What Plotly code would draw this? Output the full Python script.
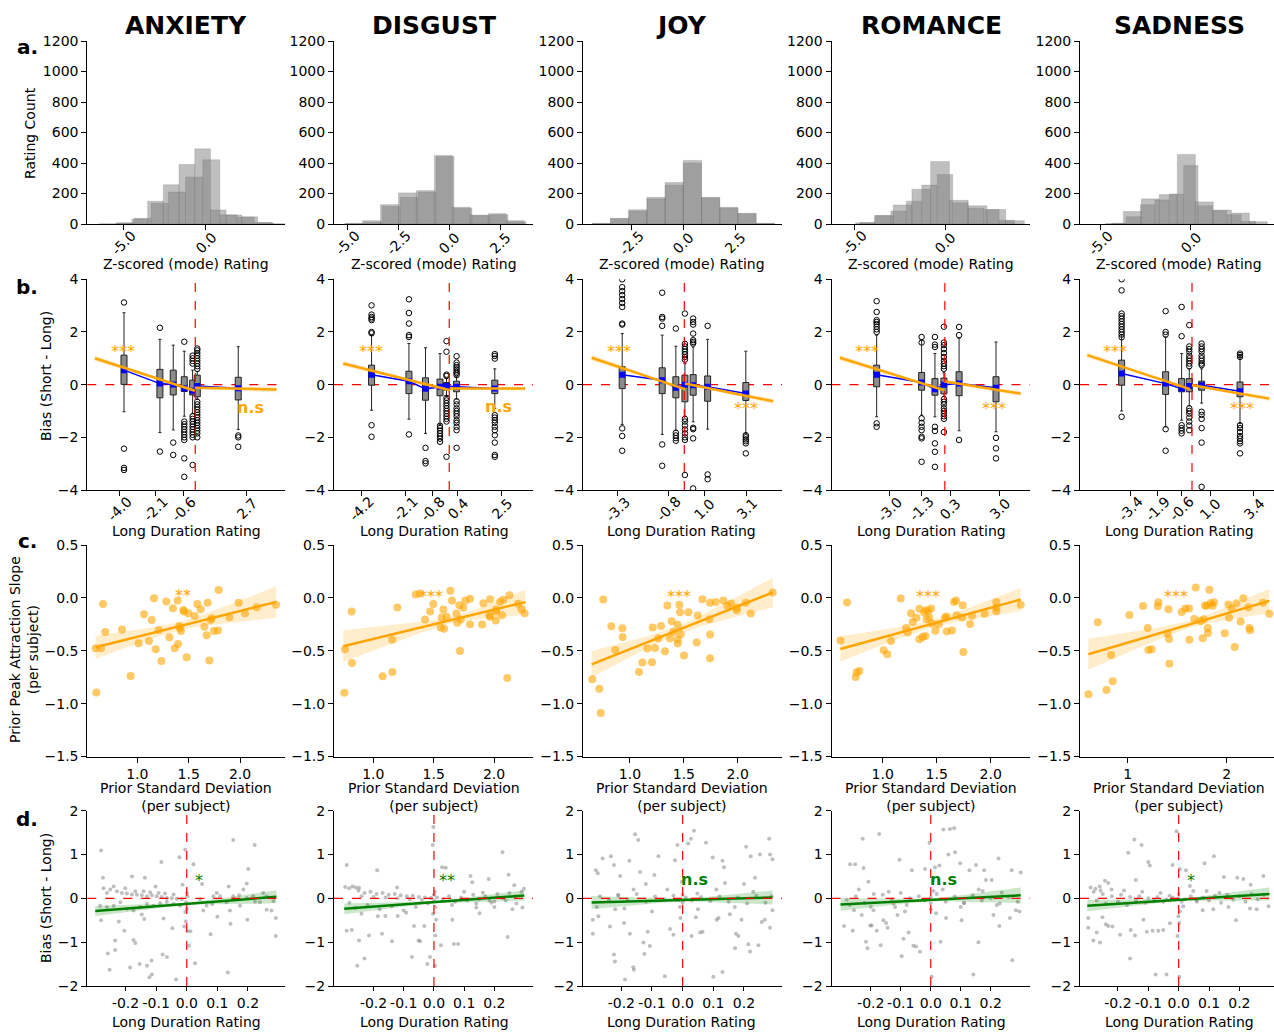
import numpy as np
import plotly.graph_objects as go

# The photographed page maps page row y to picture row 8 + 0.9846*y, so vertical positions
# read from the reference are converted with that mapping (FH = 1020 effective rows).
W, H = 1274, 1036
Y_OFF = 8
FH = 1020
EMOTIONS = ["ANXIETY", "DISGUST", "JOY", "ROMANCE", "SADNESS"]

# ---------------- layout geometry (reference pixels) ----------------
COL_L = [87.3, 334.0, 583.0, 831.5, 1080.0]
COL_R = [285.0, 533.0, 782.0, 1030.0, 1274.0]
COL_C = [186, 434, 682, 931, 1179]
ROW_T = [41.0, 279.3, 545.0, 810.7]
ROW_B = [224.0, 490.0, 756.5, 986.0]

XRANGE_A = [[-7.18, 4.78], [-5.65, 4.10], [-4.85, 4.77], [-6.24, 4.67], [-6.15, 4.63]]
XRANGE_B = [[-5.68, 4.72], [-5.49, 3.99], [-5.04, 4.86], [-6.20, 4.66], [-6.16, 4.51]]
XRANGE_C = [[0.513, 2.438], [0.674, 2.323], [0.564, 2.411], [0.526, 2.364], [0.518, 2.478]]
XRANGE_D = [[-0.325, 0.321], [-0.331, 0.328], [-0.325, 0.324], [-0.331, 0.331], [-0.325, 0.314]]

# ---------------- row a: histograms ----------------
XTICKS_A = [[-5.0, 0.0], [-5.0, -2.5, 0.0, 2.5], [-2.5, 0.0, 2.5], [-5.0, 0.0], [-5.0, 0.0]]
HIST1_START = [-5.43, -5.13, -4.40, -4.91, -4.74]
HIST1_WIDTH = [0.95, 0.88, 0.88, 1.03, 1.00]
HIST1_ANXIETY = [6, 33, 149, 257, 390, 493, 92, 59, 48, 9]
HIST1_DISGUST = [4, 22, 127, 204, 219, 450, 110, 59, 68, 22]
HIST1_JOY = [4, 37, 94, 175, 272, 417, 175, 110, 70, 4]
HIST1_ROMANCE = [8, 55, 125, 228, 410, 155, 120, 95, 22]
HIST1_SADNESS = [3, 82, 165, 193, 456, 145, 92, 72, 15]
HIST2_START = [-6.44, -5.05, -4.40, -4.68, -4.39]
HIST2_WIDTH = [1.04, 0.88, 0.88, 0.85, 0.80]
HIST2_ANXIETY = [2, 8, 37, 136, 210, 309, 421, 60, 45, 10, 2]
HIST2_DISGUST = [2, 12, 116, 175, 210, 443, 103, 55, 61, 15]
HIST2_JOY = [3, 35, 85, 165, 255, 400, 172, 105, 68, 3]
HIST2_ROMANCE = [10, 55, 85, 150, 255, 325, 140, 105, 95, 25]
HIST2_SADNESS = [5, 48, 127, 158, 197, 384, 120, 88, 61, 18]
HIST1 = [HIST1_ANXIETY, HIST1_DISGUST, HIST1_JOY, HIST1_ROMANCE, HIST1_SADNESS]
HIST2 = [HIST2_ANXIETY, HIST2_DISGUST, HIST2_JOY, HIST2_ROMANCE, HIST2_SADNESS]

# ---------------- row b: boxplots per long-duration rating ----------------
XTICKS_B = [[-4.0, -2.1, -0.6, 2.7], [-4.2, -2.1, -0.8, 0.4, 2.5], [-3.3, -0.8, 1.0, 3.1],
            [-3.0, -1.3, 0.3, 3.0], [-3.4, -1.9, -0.6, 1.0, 3.4]]

B_X_ANXIETY = [-3.75, -1.86, -1.16, -0.58, -0.14, 0.105, 2.26]
B_Q1_ANXIETY = [0.01, -0.50, -0.39, -0.26, -0.39, -0.46, -0.58]
B_Q3_ANXIETY = [1.12, 0.58, 0.55, 0.30, 0.17, 0.36, 0.28]
B_LO_ANXIETY = [-1.03, -1.82, -1.72, -1.20, -1.10, -0.55, -1.70]
B_HI_ANXIETY = [2.73, 1.72, 1.50, 1.27, 0.55, 0.50, 1.44]
B_MEAN_ANXIETY = [0.55, 0.04, 0.01, -0.14, -0.23, -0.05, -0.14]
B_OUT_ANXIETY = [[3.12, -2.43, -3.16, -3.24], [2.16, -2.54], [-2.2, -2.67],
                 [1.63, -1.4, -1.5, -1.6, -1.7, -1.8, -1.9, -2.0, -2.1, -2.8, -3.5],
                 [1.1, 1.0, 0.9, 0.8, -1.2, -1.3, -1.4, -1.5, -1.6, -1.7, -1.8, -1.9, -2.0, -3.05],
                 [1.37, 1.3, 1.2, 1.1, 1.0, 0.9, 0.8, 0.7, 0.6, -0.65, -0.75, -0.85, -0.95, -1.05,
                  -1.15, -1.25, -1.35, -1.45, -1.55, -1.65, -1.75, -1.85, -2.0],
                 [-1.93, -2.0, -2.36]]

B_X_DISGUST = [-3.70, -1.92, -1.13, -0.44, -0.13, 0.35, 2.17]
B_Q1_DISGUST = [-0.02, -0.34, -0.59, -0.42, -0.21, -0.27, -0.34]
B_Q3_DISGUST = [0.74, 0.51, 0.26, 0.21, 0.08, 0.13, 0.17]
B_LO_DISGUST = [-0.97, -1.31, -1.85, -1.51, -0.45, -0.55, -0.90]
B_HI_DISGUST = [1.88, 1.56, 1.40, 1.18, 0.25, 0.30, 0.60]
B_MEAN_DISGUST = [0.38, 0.13, -0.16, -0.08, -0.05, -0.08, -0.15]
B_OUT_DISGUST = [[3.01, 2.66, 2.57, 2.51, 2.45, 2.0, 1.95, -1.54, -1.98],
                 [3.24, 2.72, 2.32, 1.88, 1.81, -1.89], [-2.40, -2.90, -2.99],
                 [-1.56, -1.65, -1.75, -1.85, -1.95, -2.05, -2.17],
                 [1.65, 1.25, 0.38, 0.33, -0.5, -0.6, -0.7, -0.8, -0.9, -1.0, -1.1, -1.2, -1.3, -1.4, -2.74],
                 [1.08, 0.84, 0.74, 0.66, 0.58, 0.5, 0.44, 0.36, -0.63, -0.75, -0.9, -1.0, -1.1, -1.2,
                  -1.35, -1.45, -1.6, -1.73, -2.4],
                 [1.16, 1.09, 0.99, -1.16, -1.25, -1.35, -1.45, -1.6, -1.73, -1.92, -2.2, -2.67, -2.74]]

B_X_JOY = [-3.09, -1.10, -0.42, 0.03, 0.44, 1.16, 3.06]
B_Q1_JOY = [-0.15, -0.34, -0.50, -0.65, -0.40, -0.63, -0.60]
B_Q3_JOY = [0.68, 0.64, 0.30, 0.36, 0.38, 0.33, 0.08]
B_LO_JOY = [-1.51, -1.89, -1.73, -1.20, -1.41, -1.69, -1.85]
B_HI_JOY = [1.94, 1.88, 1.46, 0.80, 1.43, 1.72, 1.27]
B_MEAN_JOY = [0.38, 0.17, -0.12, 0.0, -0.02, -0.08, -0.34]
B_OUT_JOY = [[4.0, 3.7, 3.55, 3.4, 3.25, 3.1, 2.95, 2.32, 2.28, -1.66, -1.95, -2.51],
             [3.49, 2.57, 2.51, 2.23, -2.27, -3.08], [2.13, -1.83, -1.93, -2.03, -2.13],
             [2.7, 1.55, 1.45, 1.35, 1.25, 1.15, 1.05, 0.95, -1.3, -1.4, -1.55, -1.7, -1.85, -2.0, -2.1, -3.43],
             [2.51, 2.38, 2.28, 1.94, 1.69, 1.62, 1.56, -1.64, -1.69, -2.04, -3.94],
             [2.23, -3.41, -3.59], [-1.92, -2.0, -2.08, -2.15, -2.23, -2.61]]

B_X_ROMANCE = [-3.73, -1.27, -0.54, -0.05, 0.78, 2.80]
B_Q1_ROMANCE = [-0.08, -0.21, -0.40, -0.35, -0.42, -0.65]
B_Q3_ROMANCE = [0.74, 0.46, 0.23, 0.25, 0.49, 0.30]
B_LO_ROMANCE = [-1.22, -1.16, -1.22, -0.45, -1.75, -1.79]
B_HI_ROMANCE = [1.88, 1.69, 1.18, 0.45, 1.77, 1.62]
B_MEAN_ROMANCE = [0.38, 0.08, -0.17, 0.0, 0.04, -0.12]
B_OUT_ROMANCE = [[3.17, 2.76, 2.45, 2.38, 2.3, 2.2, 2.1, 2.0, -1.47, -1.6],
                 [1.81, 1.6, -1.28, -1.45, -1.6, -1.73, -1.98, -2.04, -2.93],
                 [1.81, 1.52, 1.43, -1.6, -1.76, -2.23, -2.55, -3.12],
                 [2.2, 1.6, 1.5, 1.35, 1.2, 1.05, 0.9, 0.8, 0.7, 0.6, -0.55, -0.65, -0.75, -0.9,
                  -1.0, -1.1, -1.2, -1.3, -1.8],
                 [2.19, 1.88, -2.1], [-2.02, -2.42, -2.80]]

B_X_SADNESS = [-3.87, -1.45, -0.57, -0.15, 0.53, 2.64]
B_Q1_SADNESS = [-0.02, -0.37, -0.27, -0.27, -0.21, -0.46]
B_Q3_SADNESS = [0.93, 0.49, 0.23, 0.23, 0.13, 0.10]
B_LO_SADNESS = [-1.0, -1.60, -1.35, -0.80, -0.70, -1.48]
B_HI_SADNESS = [1.90, 1.81, 1.18, 0.60, 0.60, 1.12]
B_MEAN_SADNESS = [0.42, 0.04, -0.15, -0.05, -0.02, -0.25]
B_OUT_SADNESS = [[4.0, 3.58, 2.7, 2.6, 2.5, 2.4, 2.3, 2.2, 2.1, 2.0, 1.9, 1.8, -1.22],
                 [2.79, 2.0, 1.9, -1.69, -2.51], [2.95, 1.84, -1.54, -1.65, -1.75, -1.85],
                 [2.26, 1.45, 1.35, 1.25, 1.1, 1.0, 0.9, 0.8, 0.7, -0.9, -1.0, -1.1, -1.25, -1.4, -1.55, -1.73],
                 [1.56, 1.45, 1.35, 1.25, 1.1, 1.0, 0.9, 0.8, 0.74, -1.03, -1.15, -1.3, -1.65, -2.2, -3.88],
                 [1.18, 1.12, 1.05, -1.54, -1.65, -1.8, -1.95, -2.05, -2.15, -2.23, -2.61]]

B_X = [B_X_ANXIETY, B_X_DISGUST, B_X_JOY, B_X_ROMANCE, B_X_SADNESS]
B_Q1 = [B_Q1_ANXIETY, B_Q1_DISGUST, B_Q1_JOY, B_Q1_ROMANCE, B_Q1_SADNESS]
B_Q3 = [B_Q3_ANXIETY, B_Q3_DISGUST, B_Q3_JOY, B_Q3_ROMANCE, B_Q3_SADNESS]
B_LO = [B_LO_ANXIETY, B_LO_DISGUST, B_LO_JOY, B_LO_ROMANCE, B_LO_SADNESS]
B_HI = [B_HI_ANXIETY, B_HI_DISGUST, B_HI_JOY, B_HI_ROMANCE, B_HI_SADNESS]
B_MEAN = [B_MEAN_ANXIETY, B_MEAN_DISGUST, B_MEAN_JOY, B_MEAN_ROMANCE, B_MEAN_SADNESS]
B_OUT = [B_OUT_ANXIETY, B_OUT_DISGUST, B_OUT_JOY, B_OUT_ROMANCE, B_OUT_SADNESS]

# piecewise regression fits (x0, y0, x1, y1) and CI half-widths (start, min, end)
B_FIT_LEFT = [[-5.28, 1.00, -0.02, -0.23], [-5.05, 0.80, 0.03, -0.21], [-4.61, 1.02, 0.03, -0.17],
              [-5.74, 1.02, -0.05, -0.21], [-5.76, 1.12, -0.11, -0.17]]
B_FIT_RIGHT = [[-0.02, -0.12, 4.28, -0.18], [0.03, -0.15, 3.62, -0.15], [0.03, 0.04, 4.42, -0.63],
               [-0.05, 0.13, 4.15, -0.34], [0.0, -0.02, 4.25, -0.53]]
B_HW_LEFT = [[0.11, 0.05, 0.08], [0.10, 0.05, 0.07], [0.12, 0.05, 0.07], [0.11, 0.05, 0.07], [0.11, 0.05, 0.07]]
B_HW_RIGHT = [[0.06, 0.05, 0.12], [0.05, 0.04, 0.08], [0.06, 0.05, 0.10], [0.06, 0.05, 0.09], [0.06, 0.05, 0.09]]
B_SIG_LEFT = ["***", "***", "***", "***", "***"]
B_SIG_LEFT_POS = [(-3.82, 1.41), (-3.73, 1.40), (-3.24, 1.40), (-4.24, 1.40), (-4.23, 1.40)]
B_SIG_RIGHT = ["n.s", "n.s", "***", "***", "***"]
B_SIG_RIGHT_POS = [(2.88, -0.86), (2.33, -0.84), (3.05, -0.75), (2.71, -0.75), (2.73, -0.75)]

# ---------------- row c: per-subject slope vs prior SD ----------------
XTICKS_C = [[1.0, 1.5, 2.0]] * 4 + [[1.0, 2.0]]
XTICKTEXT_C = [["1.0", "1.5", "2.0"]] * 4 + [["1", "2"]]
C_ANXIETY = [(0.594, -0.476), (0.646, -0.476), (0.666, -0.057), (0.688, -0.322), (0.851, -0.300),
             (0.935, -0.738), (1.013, -0.429), (1.065, -0.155), (1.114, -0.407), (1.140, -0.209),
             (1.162, -0.004), (1.179, -0.486), (1.208, -0.303), (1.234, -0.596), (1.282, -0.035),
             (1.312, -0.372), (1.347, -0.098), (1.364, -0.476), (1.393, -0.026), (1.396, -0.435),
             (1.409, -0.265), (1.416, -0.287), (1.425, -0.313), (1.448, -0.114), (1.455, -0.130),
             (1.481, -0.561), (1.497, -0.146), (1.558, -0.171), (1.584, -0.057), (1.617, -0.108),
             (1.653, -0.272), (1.675, -0.354), (1.685, -0.045), (1.701, -0.593), (1.714, -0.209),
             (1.724, -0.193), (1.747, -0.313), (1.786, -0.309), (1.792, 0.075), (1.896, -0.183),
             (1.987, -0.045), (2.049, -0.146), (2.162, -0.089), (2.351, -0.064), (0.601, -0.895)]
C_DISGUST = [(0.760, -0.897), (0.765, -0.486), (0.820, -0.129), (0.823, -0.615), (1.077, -0.742),
             (1.157, -0.701), (1.157, -0.397), (1.199, -0.091), (1.351, 0.032), (1.387, 0.042),
             (1.428, -0.205), (1.470, -0.129), (1.497, -0.059), (1.558, -0.280), (1.566, -0.186),
             (1.580, -0.110), (1.586, -0.293), (1.608, -0.179), (1.638, 0.067), (1.652, -0.024),
             (1.688, -0.148), (1.696, -0.236), (1.713, -0.069), (1.718, -0.502), (1.724, -0.205),
             (1.746, -0.094), (1.762, -0.024), (1.801, -0.009), (1.801, -0.249), (1.901, -0.252),
             (1.912, -0.050), (1.961, -0.167), (1.967, -0.012), (1.967, -0.179), (2.014, -0.214),
             (2.017, -0.110), (2.017, -0.129), (2.050, -0.037), (2.066, -0.164), (2.077, -0.018),
             (2.110, -0.758), (2.127, 0.026), (2.199, -0.056), (2.227, -0.107), (2.254, -0.145)]
C_JOY = [(0.650, -0.770), (0.715, -0.859), (0.728, -1.089), (0.752, -0.015), (0.827, -0.268),
         (0.864, -0.492), (0.929, -0.287), (0.932, -0.369), (1.084, -0.701), (1.115, -0.612),
         (1.161, -0.479), (1.204, -0.609), (1.211, -0.280), (1.232, -0.473), (1.263, -0.381),
         (1.288, -0.265), (1.325, -0.505), (1.347, -0.072), (1.372, -0.385), (1.387, -0.220),
         (1.402, -0.321), (1.443, -0.432), (1.443, -0.255), (1.443, -0.394), (1.458, -0.066),
         (1.464, -0.135), (1.471, -0.344), (1.502, -0.546), (1.542, -0.135), (1.619, -0.423),
         (1.628, -0.167), (1.672, -0.012), (1.737, -0.202), (1.743, -0.047), (1.743, -0.347),
         (1.743, -0.571), (1.796, -0.040), (1.867, -0.024), (1.904, -0.075), (1.938, -0.053),
         (1.991, -0.116), (1.991, -0.091), (2.074, -0.047), (2.121, -0.148), (2.325, 0.051)]
C_ROMANCE = [(0.608, -0.404), (0.670, -0.043), (0.750, -0.748), (0.759, -0.704), (0.784, -0.691),
             (1.009, -0.495), (1.043, -0.533), (1.077, -0.407), (1.167, -0.005), (1.216, -0.284),
             (1.231, -0.328), (1.262, -0.145), (1.278, -0.227), (1.312, -0.189), (1.340, -0.104),
             (1.340, -0.391), (1.370, -0.369), (1.383, -0.139), (1.395, -0.360), (1.401, -0.117),
             (1.407, -0.202), (1.423, -0.123), (1.432, -0.186), (1.448, -0.101), (1.454, -0.243),
             (1.488, -0.312), (1.519, -0.249), (1.577, -0.189), (1.590, -0.177), (1.593, -0.319),
             (1.642, -0.309), (1.660, -0.040), (1.679, -0.024), (1.685, -0.164), (1.735, -0.186),
             (1.741, -0.069), (1.747, -0.511), (1.809, -0.246), (1.827, -0.170), (1.944, -0.151),
             (2.052, -0.040), (2.052, -0.094), (2.052, -0.126), (2.278, -0.066)]
C_SADNESS = [(0.603, -0.912), (0.697, -0.230), (0.785, -0.871), (0.832, -0.540), (0.848, -0.789),
             (1.017, -0.161), (1.155, -0.076), (1.202, -0.284), (1.209, -0.492), (1.242, -0.486),
             (1.303, -0.079), (1.310, -0.041), (1.401, -0.338), (1.411, -0.107), (1.418, -0.389),
             (1.421, -0.622), (1.545, -0.133), (1.582, -0.101), (1.620, -0.101), (1.623, -0.395),
             (1.673, -0.199), (1.687, 0.098), (1.737, -0.218), (1.758, -0.382), (1.768, -0.202),
             (1.781, -0.072), (1.798, -0.075), (1.808, -0.284), (1.811, -0.331), (1.825, 0.076),
             (1.838, -0.050), (1.859, -0.075), (1.872, -0.041), (1.980, -0.334), (2.017, -0.063),
             (2.024, -0.189), (2.051, -0.101), (2.081, -0.464), (2.098, -0.050), (2.141, -0.224),
             (2.168, -0.003), (2.219, -0.088), (2.229, -0.284), (2.236, -0.306), (2.367, -0.047),
             (2.431, -0.151)]
C_POINTS = [C_ANXIETY, C_DISGUST, C_JOY, C_ROMANCE, C_SADNESS]
C_FIT = [[0.594, -0.467, 2.351, -0.039], [0.751, -0.457, 2.260, -0.040], [0.644, -0.628, 2.325, 0.051],
         [0.608, -0.483, 2.278, -0.015], [0.603, -0.533, 2.431, -0.028]]
C_HW = [[0.11, 0.04, 0.15], [0.15, 0.03, 0.12], [0.125, 0.04, 0.14], [0.12, 0.035, 0.11], [0.147, 0.035, 0.115]]
C_SIG = ["**", "***", "***", "***", "***"]
C_SIG_POS = [(1.44, 0.056), (1.475, 0.05), (1.458, 0.05), (1.417, 0.05), (1.488, 0.05)]

# ---------------- row d: per-trial bias vs long duration rating ----------------
XTICKS_D = [-0.2, -0.1, 0.0, 0.1, 0.2]
D_ANXIETY = [(-0.280, 1.09), (-0.274, 0.47), (-0.280, -0.50), (-0.258, -1.26), (-0.252, -1.63), (-0.234, -0.96),
             (-0.234, -1.18), (-0.222, -0.53), (-0.204, -0.74), (-0.185, -1.58), (-0.179, 0.50), (-0.174, -0.95),
             (-0.168, -1.02), (-0.154, -1.50), (-0.147, -0.37), (-0.139, -0.47), (-0.137, 0.47), (-0.130, -1.54),
             (-0.122, -1.80), (-0.114, -1.74), (-0.115, -1.42), (-0.102, 0.27), (-0.083, 0.83), (-0.076, -0.46),
             (-0.079, -1.28), (-0.065, -1.34), (-0.047, -0.68), (-0.035, -1.85), (-0.024, 0.94), (-0.014, 0.31),
             (-0.005, 1.11), (-0.005, -0.31), (0.002, -0.75), (0.007, -1.08), (0.012, -0.75), (0.022, 0.78),
             (0.027, -1.48), (0.050, 0.33), (0.078, -0.82), (0.083, -0.13), (0.100, -0.42), (0.134, -1.69),
             (0.137, 0.27), (0.143, -0.58), (0.152, 1.33), (0.171, 0.07), (0.196, 0.34), (0.198, -0.49),
             (0.201, 0.67), (0.222, 1.22), (0.223, -0.08), (0.261, -0.26), (0.277, -0.28), (0.291, -0.45),
             (0.291, -0.86), (0.250, 0.12),
             (-0.272, 0.23), (-0.250, 0.20), (-0.228, 0.16), (-0.212, 0.12), (-0.196, 0.11), (-0.179, 0.09),
             (-0.163, 0.08), (-0.147, 0.07), (-0.130, 0.05), (-0.114, 0.07), (-0.098, 0.05), (-0.082, 0.03),
             (-0.065, 0.01), (-0.049, 0.00), (-0.033, -0.01), (-0.016, -0.02), (-0.261, 0.12), (-0.239, 0.27),
             (-0.201, 0.23), (-0.168, 0.16), (-0.141, 0.16), (-0.120, 0.14), (-0.092, 0.12), (-0.071, 0.11),
             (-0.043, 0.09), (-0.283, -0.17), (-0.261, -0.20), (-0.239, -0.17), (-0.217, -0.09), (-0.196, -0.24),
             (-0.174, -0.28), (-0.152, -0.20), (-0.130, -0.13), (-0.109, -0.17), (-0.087, -0.11), (-0.065, -0.08),
             (-0.043, -0.13), (-0.022, -0.17), (-0.002, -0.09), (0.000, -0.24), (-0.003, -0.53), (0.002, 0.05),
             (0.000, 0.12), (-0.008, -0.64), (0.043, -0.02), (0.065, -0.17), (0.087, 0.05), (0.109, 0.05),
             (0.130, -0.09), (0.152, 0.05), (0.174, -0.17), (0.196, 0.01), (0.217, 0.05), (0.239, -0.09),
             (0.261, 0.05), (0.283, -0.06), (0.054, -0.28), (0.098, 0.12), (0.141, -0.28), (0.185, 0.20)]
D_DISGUST = [(-0.289, 0.76), (-0.294, 0.26), (-0.281, 0.23), (-0.270, 0.27), (-0.259, 0.25), (-0.248, 0.24),
             (-0.289, -0.74), (-0.272, -0.72), (-0.254, -1.54), (-0.248, -0.96), (-0.230, -1.37), (-0.215, -0.85),
             (-0.188, 0.64), (-0.186, -0.41), (-0.172, -0.81), (-0.161, -0.40), (-0.139, -0.98), (-0.122, 0.25),
             (-0.092, -0.33), (-0.073, -1.34), (-0.066, -0.63), (-0.051, -0.96), (-0.046, -0.98), (-0.032, -0.63),
             (-0.022, -1.50), (-0.013, -1.34), (-0.004, 1.22), (-0.002, 1.63), (0.004, -1.54), (0.004, -0.85),
             (0.007, -0.49), (0.023, -1.07), (0.027, 0.71), (0.039, 0.70), (0.061, -0.49), (0.066, -1.04),
             (0.080, -1.04), (0.121, 0.51), (0.127, 0.37), (0.140, -0.21), (0.151, -0.34), (0.162, 0.13),
             (0.181, 0.44), (0.184, -0.05), (0.200, -0.07), (0.227, 1.05), (0.238, -0.05), (0.244, -0.88),
             (0.247, 0.54), (0.266, 0.30), (0.273, -0.12), (0.293, -0.21), (0.298, 0.22),
             (-0.25, 0.18), (-0.23, 0.12), (-0.21, 0.15), (-0.19, 0.10), (-0.17, 0.12), (-0.15, 0.08),
             (-0.13, 0.10), (-0.11, 0.07), (-0.09, 0.05), (-0.07, 0.06), (-0.05, 0.03), (-0.03, 0.02),
             (-0.01, 0.01), (-0.24, 0.05), (-0.20, 0.03), (-0.16, 0.02), (-0.12, 0.00), (-0.08, -0.02),
             (-0.04, -0.03), (-0.28, -0.10), (-0.26, -0.22), (-0.22, -0.15), (-0.18, -0.25), (-0.14, -0.18),
             (-0.10, -0.28), (-0.06, -0.20), (-0.02, -0.12), (-0.24, -0.35), (-0.12, -0.40), (0.0, -0.05),
             (0.0, 0.08), (0.005, -0.20), (0.01, 0.02), (-0.003, -0.35), (0.003, 0.15), (0.03, -0.02),
             (0.05, 0.05), (0.07, -0.08), (0.09, 0.02), (0.11, -0.05), (0.13, 0.08), (0.15, -0.02),
             (0.17, 0.05), (0.19, -0.10), (0.21, 0.10), (0.23, 0.00), (0.25, 0.12), (0.27, 0.05),
             (0.29, 0.15), (0.06, -0.15), (0.10, 0.15), (0.14, -0.12), (0.20, -0.20), (0.26, -0.25)]
D_JOY = [(-0.283, 0.64), (-0.277, 0.57), (-0.293, -0.81), (-0.293, -0.49), (-0.275, -0.41), (-0.261, 0.91),
         (-0.237, -0.64), (-0.234, 0.96), (-0.224, 0.76), (-0.221, -1.44), (-0.224, -1.28), (-0.210, 0.06),
         (-0.204, 0.51), (-0.191, -0.56), (-0.190, -0.23), (-0.188, -1.85), (-0.174, 0.86), (-0.172, -0.81),
         (-0.161, -1.57), (-0.159, -1.63), (-0.155, 1.46), (-0.145, 1.33), (-0.139, 0.60), (-0.128, -1.01),
         (-0.125, -1.27), (-0.120, 0.33), (-0.114, -0.76), (-0.107, -1.09), (-0.092, 0.53), (-0.079, 0.96),
         (-0.058, -1.78), (-0.041, -0.70), (-0.030, -0.83), (-0.025, 0.87), (-0.017, 1.22), (-0.009, -0.20),
         (-0.003, 0.38), (-0.007, -0.45), (0.018, 1.25), (0.027, 1.36), (0.037, 1.54), (0.029, -0.86),
         (0.043, -0.43), (0.048, 0.11), (0.057, -0.78), (0.065, -0.76), (0.076, 1.27), (0.098, 0.93),
         (0.111, -0.49), (0.117, -0.45), (0.130, 0.86), (0.135, 0.71), (0.138, 0.35), (0.100, -1.79),
         (0.130, -1.68), (0.154, -0.36), (0.171, -1.14), (0.174, -0.81), (0.182, -0.86), (0.192, -0.49),
         (0.200, 0.33), (0.207, 1.18), (0.214, -1.05), (0.222, 0.96), (0.220, -1.21), (0.236, 0.47),
         (0.247, -1.07), (0.252, 1.00), (0.258, -0.54), (0.268, -0.49), (0.282, 1.36), (0.285, -0.67),
         (0.285, 1.00), (0.293, 0.89), (0.293, -0.27),
         (-0.27, 0.05), (-0.24, -0.05), (-0.21, 0.08), (-0.18, -0.03), (-0.15, 0.10), (-0.12, -0.08),
         (-0.09, 0.04), (-0.06, -0.02), (-0.03, 0.06), (-0.01, -0.03), (0.0, 0.08), (0.0, -0.10),
         (0.01, 0.02), (0.03, -0.05), (0.06, 0.03), (0.09, -0.06), (0.12, 0.04), (0.15, -0.08),
         (0.18, 0.02), (0.21, -0.12), (0.24, 0.06), (0.27, -0.10), (0.29, 0.05), (-0.28, -0.20),
         (-0.22, -0.25), (-0.16, 0.20), (-0.10, -0.30), (-0.05, 0.20), (0.05, -0.25), (0.11, 0.20),
         (0.17, -0.20), (0.23, 0.15)]
D_ROMANCE = [(-0.289, -0.63), (-0.269, 0.78), (-0.252, 0.78), (-0.260, -0.74), (-0.256, -0.27), (-0.230, -0.38),
             (-0.224, 0.69), (-0.227, 1.36), (-0.216, -0.99), (-0.211, -1.14), (-0.208, 0.38), (-0.202, -0.62),
             (-0.197, -0.62), (-0.191, -0.27), (-0.180, -0.74), (-0.172, 1.47), (-0.167, -1.07), (-0.158, -0.50),
             (-0.149, -0.56), (-0.144, -0.67), (-0.124, -0.12), (-0.119, -0.20), (-0.111, -0.38), (-0.104, 0.88),
             (-0.097, -1.32), (-0.091, -0.92), (-0.086, -0.30), (-0.074, -0.78), (-0.063, 0.64), (-0.058, -1.08),
             (-0.049, -1.10), (-0.036, -1.22), (-0.019, 0.67), (-0.004, 1.27), (0.003, -1.79), (0.009, 0.17),
             (0.014, 0.71), (0.018, -0.34), (0.029, 0.75), (0.033, -0.99), (0.042, 1.57), (0.051, -0.45),
             (0.059, 1.00), (0.064, 1.58), (0.078, 1.60), (0.081, 1.05), (0.098, 0.80), (0.103, -0.50),
             (0.112, -0.11), (0.129, 0.64), (0.142, -1.74), (0.151, 0.76), (0.159, -1.00), (0.173, 0.17),
             (0.178, 0.64), (0.184, 0.42), (0.203, 0.42), (0.209, -0.38), (0.226, 0.91), (0.229, -0.63),
             (0.237, 0.13), (0.264, -0.45), (0.270, 0.64), (0.272, -1.41), (0.284, -0.27), (0.296, -0.30),
             (0.300, 0.59),
             (-0.28, -0.03), (-0.25, 0.05), (-0.22, -0.10), (-0.19, 0.10), (-0.16, 0.08), (-0.13, -0.02),
             (-0.10, 0.12), (-0.07, 0.00), (-0.04, 0.05), (-0.02, -0.05), (0.0, 0.02), (0.0, -0.12),
             (0.0, -0.25), (0.02, 0.10), (0.05, -0.08), (0.08, 0.04), (0.11, -0.10), (0.14, 0.07),
             (0.17, -0.05), (0.20, 0.00), (0.23, -0.12), (0.26, 0.03), (0.29, -0.08), (-0.27, -0.15),
             (-0.24, 0.20), (-0.20, -0.20), (-0.14, 0.15), (-0.08, -0.15), (0.04, 0.20), (0.10, -0.20),
             (0.16, 0.20), (0.22, -0.15)]
D_SADNESS = [(-0.298, -0.45), (-0.298, -0.67), (-0.281, -0.96), (-0.260, 0.27), (-0.274, 0.22), (-0.290, 0.25),
             (-0.257, 0.18), (-0.270, -0.78), (-0.259, -1.01), (-0.251, -0.43), (-0.243, 0.40), (-0.232, 0.35),
             (-0.221, 0.20), (-0.240, -0.59), (-0.232, -0.63), (-0.218, -0.64), (-0.193, -0.83), (-0.166, 1.04),
             (-0.160, -1.37), (-0.158, -0.72), (-0.146, 1.34), (-0.144, -0.85), (-0.141, 0.42), (-0.122, 1.22),
             (-0.116, -0.49), (-0.105, -0.76), (-0.100, 0.83), (-0.095, 0.75), (-0.086, -0.74), (-0.076, -1.74),
             (-0.067, -0.74), (-0.051, -0.72), (-0.040, -1.74), (-0.029, -0.57), (-0.020, 0.76), (-0.007, 1.53),
             (-0.004, -0.86), (0.002, -1.79), (0.004, 0.67), (-0.001, -0.41), (0.004, -0.30), (0.002, -0.56),
             (0.015, -0.18), (0.024, 0.64), (0.037, 0.28), (0.048, 0.17), (0.059, -0.05), (0.079, -0.27),
             (0.085, 0.80), (0.092, 0.17), (0.116, 0.96), (0.114, -0.25), (0.134, 0.13), (0.149, 0.49),
             (0.164, -0.20), (0.189, -0.50), (0.193, 0.47), (0.213, 0.44), (0.235, -0.23), (0.237, 0.31),
             (0.257, -0.25), (0.279, 0.51), (0.296, -0.18),
             (-0.25, 0.10), (-0.22, 0.05), (-0.19, 0.08), (-0.16, 0.03), (-0.13, 0.05), (-0.10, 0.00),
             (-0.07, 0.03), (-0.04, -0.02), (-0.02, 0.02), (-0.27, -0.05), (-0.24, -0.12), (-0.20, -0.08),
             (-0.17, -0.15), (-0.14, -0.05), (-0.11, -0.10), (-0.08, -0.05), (-0.05, -0.08), (-0.03, 0.06),
             (-0.28, 0.15), (-0.18, 0.18), (-0.12, 0.15), (-0.06, 0.12), (0.02, -0.02), (0.04, 0.05),
             (0.06, -0.08), (0.08, 0.02), (0.10, -0.05), (0.12, 0.06), (0.14, -0.10), (0.16, 0.08),
             (0.18, -0.03), (0.20, 0.05), (0.22, -0.08), (0.24, 0.10), (0.26, -0.02), (0.28, 0.08),
             (0.0, 0.10), (0.01, -0.08), (0.0, 0.00)]
D_POINTS = [D_ANXIETY, D_DISGUST, D_JOY, D_ROMANCE, D_SADNESS]
D_FIT = [[-0.299, -0.29, 0.293, 0.036], [-0.297, -0.24, 0.299, 0.065], [-0.297, -0.094, 0.293, 0.02],
         [-0.301, -0.14, 0.300, 0.07], [-0.301, -0.17, 0.299, 0.10]]
D_HW = [[0.115, 0.03, 0.15], [0.125, 0.03, 0.12], [0.15, 0.04, 0.16], [0.145, 0.035, 0.18], [0.13, 0.03, 0.15]]
D_SIG = ["*", "**", "n.s", "n.s", "*"]
D_SIG_POS = [(0.039, 0.51), (0.042, 0.51), (0.040, 0.44), (0.042, 0.44), (0.042, 0.51)]

# ---------------- styling ----------------
FONT = "DejaVu Sans"
ORANGE = "#FFA500"
ORANGE_BAND = "rgba(255,165,0,0.2)"
GREEN = "#008000"
GREEN_BAND = "rgba(0,128,0,0.2)"
MINUS = "\u2212"


def sgn(v, nd):
    s = f"{abs(v):.{nd}f}"
    return (MINUS + s) if v < 0 else s


def hy(v, nd=1):
    s = f"{abs(v):.{nd}f}"
    return ("-" + s) if v < 0 else s


def xn(k):
    return "x" if k == 1 else f"x{k}"


def yn(k):
    return "y" if k == 1 else f"y{k}"


def band_xy(fit, hw, tm, n=60):
    x0, y0, x1, y1 = fit
    xs = np.linspace(x0, x1, n)
    t = (xs - x0) / (x1 - x0)
    ys = y0 + (y1 - y0) * t
    h0, hm, h1 = hw
    a = (h0 ** 2 - hm ** 2) / tm ** 2
    b = (h1 ** 2 - hm ** 2) / (1 - tm) ** 2
    hws = np.where(t < tm, np.sqrt(hm ** 2 + a * (t - tm) ** 2), np.sqrt(hm ** 2 + b * (t - tm) ** 2))
    bx = np.concatenate([xs, xs[::-1]])
    by = np.concatenate([ys + hws, (ys - hws)[::-1]])
    return xs, ys, bx, by


def px_x(p):
    return min(max(p / W, 0.0), 1.0)


def px_y(p):
    return 1 - (p - Y_OFF) / FH


fig = go.Figure()
annotations = []
shapes = []
layout = dict(width=W, height=H, autosize=False, margin=dict(l=0, r=0, t=0, b=0, pad=0),
              paper_bgcolor="white", plot_bgcolor="white", showlegend=False, barmode="overlay",
              font=dict(family=FONT, size=14, color="black"))


def text_ann(txt, x, y, size=14, angle=0, color="black", xref="paper", yref="paper", yshift=0):
    annotations.append(dict(text=txt, x=x, y=y, xref=xref, yref=yref, showarrow=False,
                            font=dict(family=FONT, size=size, color=color), textangle=angle,
                            xanchor="center", yanchor="middle", yshift=yshift))


for r in range(4):
    for c in range(5):
        k = r * 5 + c + 1
        common = dict(showline=True, linecolor="black", linewidth=1, ticks="outside", ticklen=5,
                      tickwidth=1, tickcolor="black", showgrid=False, zeroline=False, fixedrange=True,
                      tickfont=dict(family=FONT, size=14, color="black"))
        xa = dict(common, domain=[px_x(COL_L[c]), px_x(COL_R[c])], anchor=yn(k))
        ya = dict(common, domain=[px_y(ROW_B[r]), px_y(ROW_T[r])], anchor=xn(k))
        if r == 0:
            xa.update(range=XRANGE_A[c], tickvals=XTICKS_A[c], showticklabels=False)
            yv = [0, 200, 400, 600, 800, 1000, 1200]
            ya.update(range=[0, 1200], tickvals=yv, ticktext=[str(v) for v in yv])
            for tv in XTICKS_A[c]:
                text_ann(hy(tv), tv, px_y(ROW_B[0] + 19), angle=-45, xref=xn(k))
        elif r == 1:
            xa.update(range=XRANGE_B[c], tickvals=XTICKS_B[c], showticklabels=False)
            yv = [-4, -2, 0, 2, 4]
            ya.update(range=[-4, 4], tickvals=yv, ticktext=[sgn(v, 0) for v in yv])
            for tv in XTICKS_B[c]:
                text_ann(hy(tv), tv, px_y(ROW_B[1] + 19), angle=-45, xref=xn(k))
        elif r == 2:
            xa.update(range=XRANGE_C[c], tickvals=XTICKS_C[c], ticktext=XTICKTEXT_C[c])
            yv = [-1.5, -1.0, -0.5, 0.0, 0.5]
            ya.update(range=[-1.5, 0.5], tickvals=yv, ticktext=[sgn(v, 1) for v in yv])
        else:
            xa.update(range=XRANGE_D[c], tickvals=XTICKS_D, ticktext=[hy(v) for v in XTICKS_D], ticklen=4)
            yv = [-2, -1, 0, 1, 2]
            ya.update(range=[-2, 2], tickvals=yv, ticktext=[sgn(v, 0) for v in yv])
        layout["xaxis" if k == 1 else f"xaxis{k}"] = xa
        layout["yaxis" if k == 1 else f"yaxis{k}"] = ya

# ---------------- row a traces ----------------
for c in range(5):
    k = c + 1
    for start, width, counts in ((HIST2_START[c], HIST2_WIDTH[c], HIST2[c]),
                                 (HIST1_START[c], HIST1_WIDTH[c], HIST1[c])):
        centers = [start + width * (i + 0.5) for i in range(len(counts))]
        fig.add_trace(go.Bar(x=centers, y=counts, width=[width] * len(counts),
                             marker=dict(color="rgba(128,128,128,0.5)",
                                         line=dict(width=0.6, color="rgba(100,100,100,0.35)")),
                             xaxis=xn(k), yaxis=yn(k), hoverinfo="skip"))

# ---------------- row b traces ----------------
for c in range(5):
    k = 5 + c + 1
    ax, ay = xn(k), yn(k)
    pxu = (COL_R[c] - COL_L[c]) / (XRANGE_B[c][1] - XRANGE_B[c][0])
    bw = 6.0 / pxu
    med = [min(max(m, q1), q3) for m, q1, q3 in zip(B_MEAN[c], B_Q1[c], B_Q3[c])]
    fig.add_trace(go.Box(x=B_X[c], q1=B_Q1[c], median=med, q3=B_Q3[c], lowerfence=B_LO[c],
                         upperfence=B_HI[c], width=bw, fillcolor="#8c8c8c",
                         line=dict(color="#222222", width=1), whiskerwidth=0.5,
                         xaxis=ax, yaxis=ay, hoverinfo="skip"))
    ox, oy = [], []
    for bx, outs in zip(B_X[c], B_OUT[c]):
        ox += [bx] * len(outs)
        oy += outs
    fig.add_trace(go.Scatter(x=ox, y=oy, mode="markers",
                             marker=dict(symbol="circle-open", size=5.5, color="black",
                                         line=dict(width=1, color="black")),
                             xaxis=ax, yaxis=ay, hoverinfo="skip"))
    fig.add_trace(go.Scatter(x=B_X[c], y=B_MEAN[c], mode="lines+markers",
                             line=dict(color="blue", width=1.5),
                             marker=dict(symbol="square", size=6, color="blue"),
                             xaxis=ax, yaxis=ay, hoverinfo="skip"))
    for fit, hw, tm in ((B_FIT_LEFT[c], B_HW_LEFT[c], 0.6), (B_FIT_RIGHT[c], B_HW_RIGHT[c], 0.3)):
        xs, ys, bxp, byp = band_xy(fit, hw, tm)
        fig.add_trace(go.Scatter(x=bxp, y=byp, fill="toself", fillcolor=ORANGE_BAND, mode="lines",
                                 line=dict(width=0), xaxis=ax, yaxis=ay, hoverinfo="skip"))
        fig.add_trace(go.Scatter(x=xs, y=ys, mode="lines", line=dict(color=ORANGE, width=2.5),
                                 xaxis=ax, yaxis=ay, hoverinfo="skip"))
    shapes.append(dict(type="line", xref=f"{ax} domain", yref=ay, x0=0, x1=1, y0=0, y1=0,
                       line=dict(color="red", width=1.2, dash="dash"), layer="below"))
    shapes.append(dict(type="line", xref=ax, yref=f"{ay} domain", x0=0, x1=0, y0=0, y1=1,
                       line=dict(color="red", width=1.2, dash="dash")))
    for txt, pos in ((B_SIG_LEFT[c], B_SIG_LEFT_POS[c]), (B_SIG_RIGHT[c], B_SIG_RIGHT_POS[c])):
        if txt == "n.s":
            text_ann("<b>n.s</b>", pos[0], pos[1], size=16, color=ORANGE, xref=ax, yref=ay)
        else:
            text_ann(txt, pos[0], pos[1], size=16, color=ORANGE, xref=ax, yref=ay, yshift=-4)

# ---------------- row c traces ----------------
for c in range(5):
    k = 10 + c + 1
    ax, ay = xn(k), yn(k)
    pts = C_POINTS[c]
    xs_pts = [p[0] for p in pts]
    ys_pts = [p[1] for p in pts]
    x0, _, x1, _ = C_FIT[c]
    tm = (np.mean(xs_pts) - x0) / (x1 - x0)
    fig.add_trace(go.Scatter(x=xs_pts, y=ys_pts, mode="markers",
                             marker=dict(size=8, color="rgba(255,165,0,0.6)"),
                             xaxis=ax, yaxis=ay, hoverinfo="skip"))
    xs, ys, bxp, byp = band_xy(C_FIT[c], C_HW[c], tm)
    fig.add_trace(go.Scatter(x=bxp, y=byp, fill="toself", fillcolor=ORANGE_BAND, mode="lines",
                             line=dict(width=0), xaxis=ax, yaxis=ay, hoverinfo="skip"))
    fig.add_trace(go.Scatter(x=xs, y=ys, mode="lines", line=dict(color=ORANGE, width=2.5),
                             xaxis=ax, yaxis=ay, hoverinfo="skip"))
    text_ann(C_SIG[c], C_SIG_POS[c][0], C_SIG_POS[c][1], size=16, color=ORANGE, xref=ax, yref=ay, yshift=-4)

# ---------------- row d traces ----------------
for c in range(5):
    k = 15 + c + 1
    ax, ay = xn(k), yn(k)
    pts = D_POINTS[c]
    fig.add_trace(go.Scatter(x=[p[0] for p in pts], y=[p[1] for p in pts], mode="markers",
                             marker=dict(size=4, color="rgba(128,128,128,0.5)"),
                             xaxis=ax, yaxis=ay, hoverinfo="skip"))
    shapes.append(dict(type="line", xref=f"{ax} domain", yref=ay, x0=0, x1=1, y0=0, y1=0,
                       line=dict(color="red", width=1.2, dash="dash")))
    shapes.append(dict(type="line", xref=ax, yref=f"{ay} domain", x0=0, x1=0, y0=0, y1=1,
                       line=dict(color="red", width=1.2, dash="dash")))
    x0, _, x1, _ = D_FIT[c]
    xs, ys, bxp, byp = band_xy(D_FIT[c], D_HW[c], (0 - x0) / (x1 - x0))
    fig.add_trace(go.Scatter(x=bxp, y=byp, fill="toself", fillcolor=GREEN_BAND, mode="lines",
                             line=dict(width=0), xaxis=ax, yaxis=ay, hoverinfo="skip"))
    fig.add_trace(go.Scatter(x=xs, y=ys, mode="lines", line=dict(color=GREEN, width=2.5),
                             xaxis=ax, yaxis=ay, hoverinfo="skip"))
    if D_SIG[c] == "n.s":
        text_ann("<b>n.s</b>", D_SIG_POS[c][0], D_SIG_POS[c][1], size=16, color=GREEN, xref=ax, yref=ay)
    else:
        text_ann(D_SIG[c], D_SIG_POS[c][0], D_SIG_POS[c][1], size=16, color=GREEN, xref=ax, yref=ay, yshift=-4)

# ---------------- titles & labels ----------------
for c in range(5):
    text_ann(f"<b>{EMOTIONS[c]}</b>", px_x(COL_C[c]), px_y(25), size=25)
    text_ann("Z-scored (mode) Rating", px_x(COL_C[c]), px_y(264))
    text_ann("Long Duration Rating", px_x(COL_C[c]), px_y(531))
    text_ann("Prior Standard Deviation<br>(per subject)", px_x(COL_C[c]), px_y(797))
    text_ann("Long Duration Rating", px_x(COL_C[c]), px_y(1022))

for lab, yy in (("a.", 47), ("b.", 287), ("c.", 541), ("d.", 819)):
    text_ann(f"<b>{lab}</b>", px_x(27), px_y(yy), size=20)

text_ann("Rating Count", px_x(30), px_y(133), angle=-90)
text_ann("Bias (Short - Long)", px_x(46), px_y(376), angle=-90)
text_ann("Prior Peak Attraction Slope<br>(per subject)", px_x(24), px_y(650), angle=-90)
text_ann("Bias (Short - Long)", px_x(46), px_y(898), angle=-90)

layout["annotations"] = annotations
layout["shapes"] = shapes
fig.update_layout(**layout)

fig.write_html("out.html", include_plotlyjs=True, full_html=True,
               config={"displayModeBar": False, "responsive": False},
               post_script="document.body.style.margin='0';")
